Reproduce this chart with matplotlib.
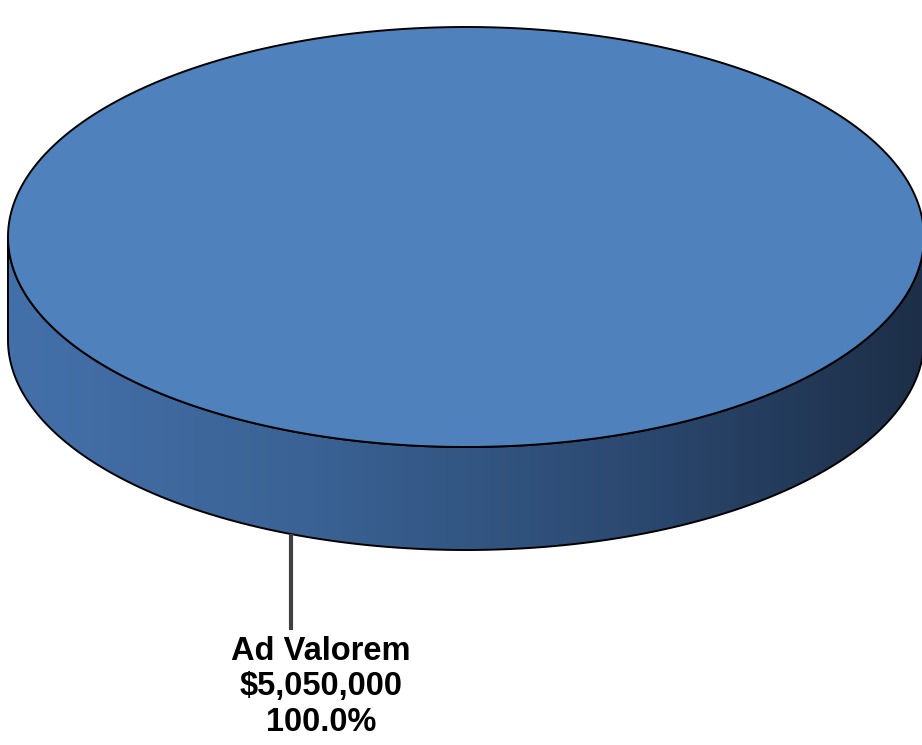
import numpy as np
import matplotlib
matplotlib.use("Agg")
import matplotlib.pyplot as plt
from matplotlib.patches import Polygon
from matplotlib.colors import LinearSegmentedColormap

# data
labels = ["Ad Valorem"]
values = [5050000]

# figure in pixel coordinates
W, H = 922, 745
fig = plt.figure(figsize=(W / 100, H / 100), dpi=100)
ax = fig.add_axes([0, 0, 1, 1])
ax.set_xlim(0, W)
ax.set_ylim(H, 0)
ax.axis("off")

# pie geometry (screen pixels)
cx, cy = 466, 237
rx, ry = 458, 210
depth = 103

top_color = "#4f81bd"
side_cmap = LinearSegmentedColormap.from_list(
    "side", ["#4470aa", "#3a6294", "#2c4a72", "#1d2f48"])

total = sum(values)
start = 0.0
for lab, val in zip(labels, values):
    frac = val / total
    t0, t1 = start, start + frac * 2 * np.pi
    start = t1
    t = np.linspace(t0, t1, 400)
    xs = cx + rx * np.cos(t)
    ys = cy + ry * np.sin(t)

    # visible side wall: front half (angles 0..pi in screen coords, y down)
    tf = np.linspace(0, np.pi, 300)
    fx = cx + rx * np.cos(tf)
    fy = cy + ry * np.sin(tf)
    side_pts = np.column_stack([np.r_[fx, fx[::-1]],
                                np.r_[fy, fy[::-1] + depth]])
    side = Polygon(side_pts, closed=True, facecolor="none",
                   edgecolor="black", lw=1.4, zorder=2)
    ax.add_patch(side)
    grad = np.linspace(0, 1, 256)[None, :]
    img = ax.imshow(grad, cmap=side_cmap, aspect="auto",
                    extent=[cx - rx, cx + rx, cy + ry + depth, cy],
                    zorder=1, interpolation="bilinear")
    img.set_clip_path(side)

    # top face
    top = Polygon(np.column_stack([xs, ys]), closed=True,
                  facecolor=top_color, edgecolor="black", lw=1.4, zorder=3)
    ax.add_patch(top)

    # leader line and label
    lx = 291
    ly0 = cy + ry * np.sqrt(max(0.0, 1 - ((lx - cx) / rx) ** 2)) + depth
    ax.plot([lx, lx], [ly0, 630], color="#404040", lw=3, zorder=4,
            solid_capstyle="butt")
    txt = f"{lab}\n${val:,.0f}\n{frac * 100:.1f}%"
    ax.text(321, 687, txt, ha="center", va="center", fontsize=23.5,
            fontweight="bold", family="Liberation Sans", color="black",
            linespacing=1.17, zorder=5)

fig.savefig("out.png", dpi=100)
